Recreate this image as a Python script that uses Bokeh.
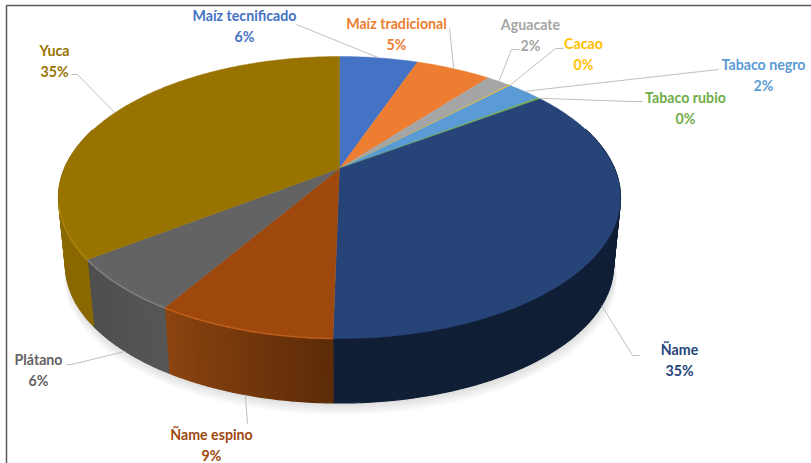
import numpy as np
from bokeh.plotting import figure
from bokeh.models import Range1d
from bokeh.core.properties import value
from bokeh.embed import file_html
from bokeh.resources import INLINE

# ---- data (percent of the total, clockwise from 12 o'clock)
categories = ["Maíz tecnificado", "Maíz tradicional", "Aguacate", "Cacao", "Tabaco negro",
              "Tabaco rubio", "Ñame", "Ñame espino", "Plátano", "Yuca"]
shares = [5.5, 5.3, 1.7, 0.1, 2.4, 0.2, 35.1, 8.5, 6.1, 35.1]
share_labels = ["6%", "5%", "2%", "0%", "2%", "0%", "35%", "9%", "6%", "35%"]

# ---- styles
top_colors = ["#4472C4", "#ED7D31", "#A5A5A5", "#FFC000", "#5B9BD5", "#70AD47",
              "#264478", "#9E480E", "#636363", "#997300"]
side_from = ["#2f5090", "#a85820", "#747474", "#b38600", "#40709a", "#4f7a32",
             "#101F36", "#5C2B08", "#565656", "#8A6800"]
side_to = ["#2f5090", "#a85820", "#747474", "#b38600", "#40709a", "#4f7a32",
           "#101F36", "#8C4410", "#4E4E4E", "#8A6800"]
rim_colors = [None, None, None, None, None, None, None, "#C8651F", "#8A8A8A", "#B08A10"]
label_xy = [(245, 15), (397, 23), (531, 24), (584, 43), (764, 64),
            (686, 97), (680, 349), (212, 434), (39, 359), (55, 50)]
pct_dy = 21
elbows = [[(297, 24)], [(450, 28)], [(512, 49), (520, 49)], [(556, 48), (564, 48)], [(719, 69)],
          [(631, 101), (643, 101)], [(633, 355), (640, 355)], [(248, 423)],
          [(72, 364), (67, 364)], [(78, 74), (72, 74)]]
on_side = [False] * 6 + [True, True, True, False]

# ---- pie projection: unit disc -> perspective ellipse
CX, APEX_Y, K, C, A = 340.0, 168.0, 275.0, -0.2057, 100.5
ECX, ECY = 339.0, 197.0
BCY, BS = 265.0, 0.975    # bottom ring


def top_pt(theta):
    u, v = np.sin(theta), -np.cos(theta)
    d = 1 + C * v
    return CX + K * u / d, (A * v + APEX_Y) / d


def bot_pt(theta):
    x, y = top_pt(theta)
    return ECX + (x - ECX) * BS, BCY + (y - ECY) * BS


def lerp_color(c0, c1, t):
    a = [int(c0[i:i + 2], 16) for i in (1, 3, 5)]
    b = [int(c1[i:i + 2], 16) for i in (1, 3, 5)]
    return "#%02x%02x%02x" % tuple(int(round(p + (q - p) * t)) for p, q in zip(a, b))


p = figure(width=811, height=463, output_backend="svg", toolbar_location=None,
           x_range=Range1d(1, 812), y_range=Range1d(463, 0), min_border=0)
p.axis.visible = False
p.grid.visible = False
p.outline_line_color = None
p.background_fill_color = "white"

# frame of the original picture
p.line([7, 7, 812], [463, 5, 5], line_color="#5a5a5a", line_width=1.5)

# soft shadow
ring = np.linspace(0, 2 * np.pi, 241)
bx, by = bot_pt(ring)
for k in range(1, 9):
    p.patch(ECX + (bx - ECX) * (1 + k * 0.0012) + 1, by + k * 1.5, fill_color="#808080",
            fill_alpha=0.035, line_color=None)

edges = np.cumsum([0] + shares) / sum(shares) * 2 * np.pi

# side wall: narrow quads joining the top rim to the bottom rim
for i in range(len(shares)):
    t0, t1 = edges[i], edges[i + 1]
    n = max(2, int((t1 - t0) / 0.02))
    ts = np.linspace(t0, t1, n + 1)
    for j in range(n):
        if -np.cos(ts[j]) < -0.3 and -np.cos(ts[j + 1]) < -0.3:
            continue
        tt = ts[j:j + 2]
        xa, ya = top_pt(tt)
        xb, yb = bot_pt(tt)
        col = lerp_color(side_from[i], side_to[i], (j + 0.5) / n)
        p.patch(list(xa) + list(xb[::-1]), list(ya) + list(yb[::-1]), fill_color=col,
                line_color=col, line_width=1.2)

# top faces
for i in range(len(shares)):
    ts = np.linspace(edges[i], edges[i + 1], max(3, int((edges[i + 1] - edges[i]) / 0.01)))
    x, y = top_pt(ts)
    p.patch([CX] + list(x), [APEX_Y] + list(y), fill_color=top_colors[i],
            line_color=top_colors[i], line_width=0.4)
    if rim_colors[i]:
        front = -np.cos(ts) > 0.25
        p.line(x[front], y[front], line_color=rim_colors[i], line_width=1.6, line_alpha=0.8)

# leader lines and labels
for i, name in enumerate(categories):
    mid = (edges[i] + edges[i + 1]) / 2
    ax, ay = bot_pt(mid) if on_side[i] else top_pt(mid)
    xs = [float(ax)] + [e[0] for e in elbows[i]]
    ys = [float(ay)] + [e[1] for e in elbows[i]]
    p.line(xs, ys, line_color="#BFBFBF", line_width=1)
    lx, ly = label_xy[i]
    p.text([lx, lx], [ly, ly + pct_dy], text=[name, share_labels[i]], text_color=top_colors[i],
           text_font=value("Lato"), text_font_style="bold", text_font_size="14.2px",
           text_align="center", text_baseline="middle")

open("out.html", "w").write(file_html(p, INLINE))
